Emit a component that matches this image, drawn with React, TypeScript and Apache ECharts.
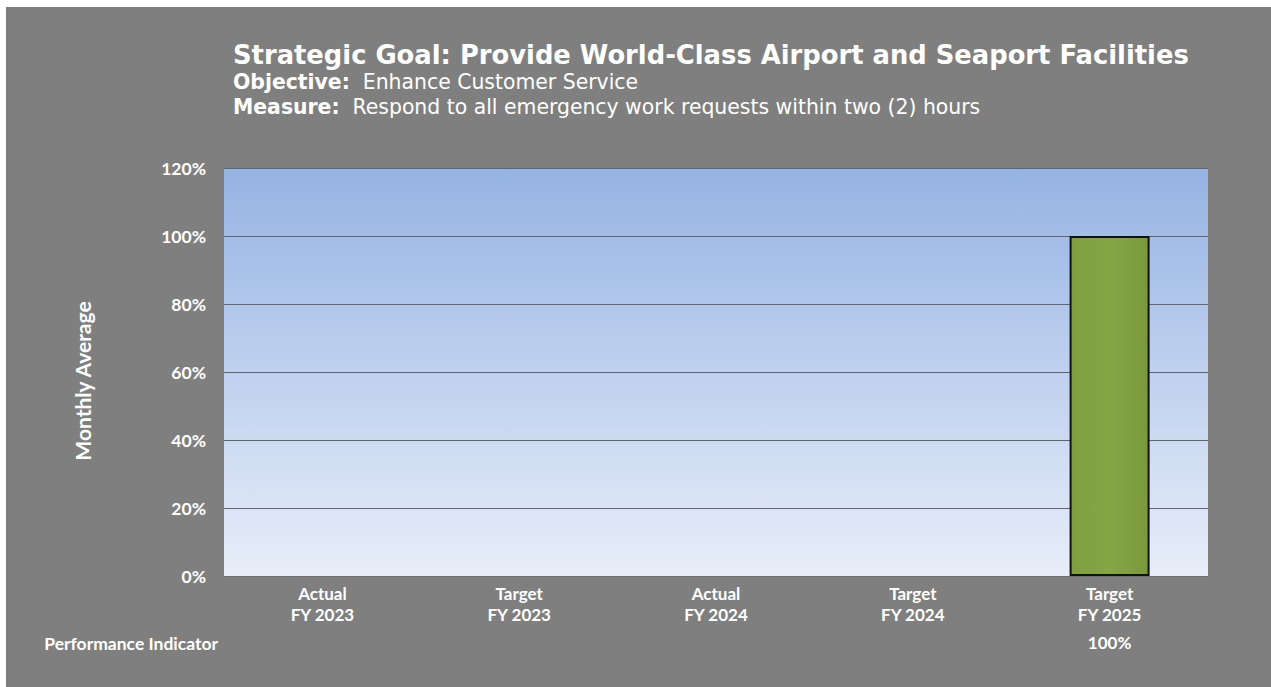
import React, { useEffect, useRef } from "react";
import * as echarts from "echarts";

const categoryKinds = ["Actual", "Target", "Actual", "Target", "Target"];
const categoryYears = ["FY 2023", "FY 2023", "FY 2024", "FY 2024", "FY 2025"];
const barValues: (number | null)[] = [null, null, null, null, 100];
const indicatorLabels = ["", "", "", "", "100%"];
const yTicks = { min: 0, max: 120, interval: 20 };

const titleText = "Strategic Goal: Provide World-Class Airport and Seaport Facilities";
const objectiveText = "Enhance Customer Service";
const measureText = "Respond to all emergency work requests within two (2) hours";

export default function App() {
  const ref = useRef<HTMLDivElement>(null);
  useEffect(() => {
    document.body.style.margin = "0";
    const chart = echarts.init(ref.current!, null, { renderer: "svg" });
    const categories = categoryKinds.map((k, i) => `${k}\n${categoryYears[i]}`);
    const labelFont = "Lato, 'Open Sans', sans-serif";
    const headFont = "'DejaVu Sans', Verdana, sans-serif";
    chart.setOption({
      animation: false,
      backgroundColor: "#ffffff",
      graphic: [
        {
          type: "rect",
          shape: { x: 6, y: 7, width: 1265, height: 680 },
          style: { fill: "#7f7f7f" },
          z: -10,
          silent: true,
        },
        {
          type: "text",
          x: 233,
          y: 55,
          style: {
            text: titleText,
            fill: "#ffffff",
            font: `bold 25.8px ${headFont}`,
            verticalAlign: "middle",
          },
        },
        {
          type: "text",
          x: 233,
          y: 82,
          style: {
            text: `{b|Objective:}  ${objectiveText}`,
            fill: "#ffffff",
            font: `20.4px ${headFont}`,
            verticalAlign: "middle",
            rich: {
              b: { fontWeight: "bold", fontSize: 20.4, fontFamily: headFont, fill: "#ffffff" },
            },
          },
        },
        {
          type: "text",
          x: 233,
          y: 107,
          style: {
            text: `{b|Measure:}  ${measureText}`,
            fill: "#ffffff",
            font: `20.4px ${headFont}`,
            verticalAlign: "middle",
            rich: {
              b: { fontWeight: "bold", fontSize: 20.4, fontFamily: headFont, fill: "#ffffff" },
            },
          },
        },
        {
          type: "text",
          x: 218,
          y: 643,
          style: {
            text: "Performance Indicator",
            fill: "#ffffff",
            font: `bold 17.5px ${labelFont}`,
            align: "right",
            verticalAlign: "middle",
          },
        },
      ],
      grid: {
        left: 224,
        right: 63,
        top: 168,
        bottom: 111,
        show: true,
        borderWidth: 0,
        backgroundColor: {
          type: "linear",
          x: 0, y: 0, x2: 0, y2: 1,
          colorStops: [
            { offset: 0, color: "#95b3e3" },
            { offset: 1, color: "#e8eef9" },
          ],
        },
      },
      xAxis: [
        {
          type: "category",
          data: categories,
          axisLine: { show: true, lineStyle: { color: "#6b6f75", width: 1 } },
          axisTick: { show: false },
          axisLabel: {
            color: "#ffffff",
            fontFamily: labelFont,
            fontWeight: "bold",
            fontSize: 17,
            lineHeight: 21,
            margin: 7,
          },
        },
        {
          type: "category",
          data: indicatorLabels,
          position: "bottom",
          offset: 50,
          axisLine: { show: false },
          axisTick: { show: false },
          axisLabel: {
            color: "#ffffff",
            fontFamily: labelFont,
            fontWeight: "bold",
            fontSize: 17,
            margin: 8,
          },
        },
      ],
      yAxis: {
        type: "value",
        min: yTicks.min,
        max: yTicks.max,
        interval: yTicks.interval,
        name: "Monthly Average",
        nameLocation: "middle",
        nameRotate: 90,
        nameGap: 131,
        nameTextStyle: {
          color: "#ffffff",
          fontFamily: labelFont,
          fontWeight: "bold",
          fontSize: 21,
          padding: [0, 18, 0, 0],
        },
        axisLine: { show: false },
        axisTick: { show: false },
        axisLabel: {
          color: "#ffffff",
          fontFamily: labelFont,
          fontWeight: "bold",
          fontSize: 17.5,
          margin: 18,
          formatter: (v: number) => `${v}%`,
        },
        splitLine: { lineStyle: { color: "#5f6670", width: 1 } },
      },
      series: [
        {
          type: "bar",
          data: barValues,
          barWidth: 80,
          itemStyle: {
            color: {
              type: "linear",
              x: 0, y: 0, x2: 1, y2: 0,
              colorStops: [
                { offset: 0, color: "#7f9e40" },
                { offset: 0.5, color: "#86a545" },
                { offset: 1, color: "#7a993c" },
              ],
            },
            borderColor: "#111111",
            borderWidth: 2,
          },
        },
      ],
    });
    return () => chart.dispose();
  }, []);
  return <div ref={ref} style={{ position: "absolute", left: 0, top: 0, width: 1271, height: 687 }} />;
}
